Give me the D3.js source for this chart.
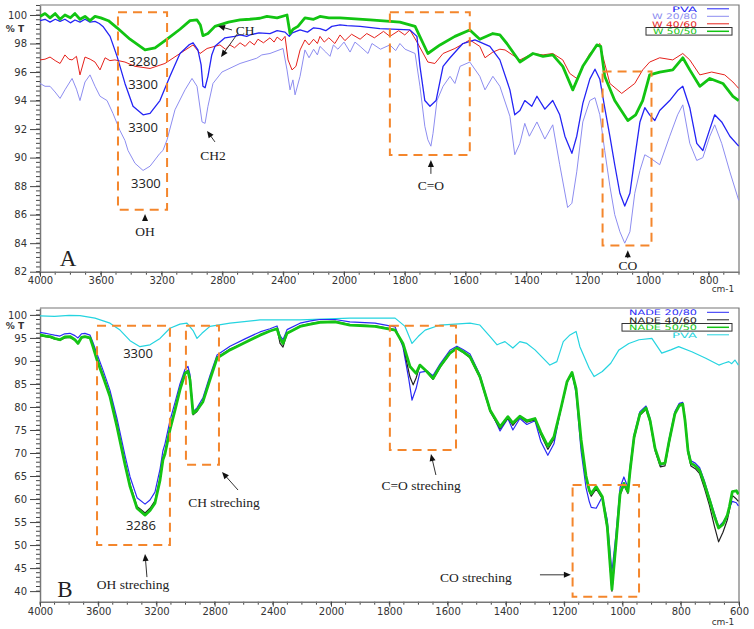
<!DOCTYPE html>
<html><head><meta charset="utf-8">
<script src="https://cdn.jsdelivr.net/npm/d3@7"></script>
<style>body{margin:0;background:#fff}svg{display:block}</style>
</head><body><svg id="c" width="754" height="629"></svg>
<script>
// ---------- DATA (wavenumber cm-1, %T) ----------
const xTicksTop = [4000,3600,3200,2800,2400,2000,1800,1600,1400,1200,1000,800];
const xTicksBottom = [4000,3600,3200,2800,2400,2000,1800,1600,1400,1200,1000,800,600];
const yTicksTop = [82,84,86,88,90,92,94,96,98,100];
const yTicksBottom = [40,45,50,55,60,65,70,75,80,85,90,95,100];
const legendTop = ["PVA","W 20/80","W 40/60","W 50/50"];
const legendBottom = ["NADE 20/80","NADE 40/60","NADE 50/50","PVA"];

const pvaTop = [[4000,99.6],[3967,99.7],[3934,99.5],[3900,99.7],[3868,99.55],[3836,99.7],[3800,99.45],[3770,99.65],[3737,99.5],[3704,99.7],[3671,99.5],[3638,99.55],[3610,99.4],[3586,99.2],[3539,98.5],[3493,97.1],[3441,95.2],[3388,93.6],[3322,93.0],[3276,93.1],[3211,94.0],[3145,95.7],[3079,97.3],[3020,97.9],[2993,98.05],[2961,97.55],[2940,96.5],[2928,95.0],[2914,94.9],[2895,95.7],[2870,97.2],[2849,97.8],[2783,98.4],[2720,98.5],[2684,98.6],[2640,98.5],[2618,98.6],[2560,98.75],[2487,98.7],[2440,98.9],[2388,98.8],[2360,98.5],[2340,98.75],[2289,98.95],[2240,98.8],[2200,99.1],[2158,99.05],[2120,98.9],[2080,99.2],[2026,99.3],[1990,99.25],[1947,99.2],[1882,99.05],[1783,98.95],[1760,98.5],[1750,96.4],[1734,94.0],[1717,93.6],[1697,94.0],[1674,96.4],[1651,97.0],[1609,98.0],[1569,98.25],[1520,97.8],[1487,96.85],[1454,94.75],[1438,93.0],[1421,93.3],[1405,94.0],[1382,93.6],[1365,94.3],[1339,93.4],[1313,94.0],[1290,93.0],[1273,91.5],[1250,90.3],[1234,91.5],[1214,93.8],[1191,95.5],[1174,96.2],[1158,95.5],[1142,93.5],[1125,91.5],[1109,89.5],[1092,87.5],[1076,86.6],[1059,87.5],[1043,90.0],[1026,92.5],[1010,93.5],[994,93.0],[977,92.6],[961,93.3],[928,94.0],[902,94.7],[885,95.0],[862,93.5],[839,91.0],[819,90.5],[796,92.0],[780,93.0],[757,92.5],[730,91.5],[701,90.8]];

const w2080Top = [[4000,95.2],[3967,95.0],[3934,95.0],[3901,94.6],[3868,94.15],[3836,94.75],[3789,95.55],[3760,94.8],[3737,94.0],[3704,95.3],[3671,95.8],[3638,95.0],[3605,94.3],[3559,94.0],[3520,93.1],[3474,91.9],[3441,91.2],[3421,90.5],[3375,89.6],[3322,89.1],[3276,89.4],[3211,90.3],[3191,90.5],[3164,91.25],[3112,93.35],[3046,94.75],[3000,95.55],[2967,95.0],[2934,92.5],[2914,92.4],[2895,93.6],[2862,95.2],[2803,96.0],[2684,96.6],[2574,96.97],[2541,97.2],[2487,97.3],[2401,97.65],[2375,96.15],[2355,94.75],[2336,95.45],[2322,94.4],[2289,95.7],[2257,97.55],[2230,97.0],[2200,97.6],[2175,97.2],[2158,97.8],[2120,97.4],[2092,97.1],[2070,97.9],[2040,97.6],[2000,98.1],[1980,97.4],[1964,98.1],[1947,97.8],[1921,97.3],[1908,98.0],[1880,97.6],[1849,97.9],[1830,97.5],[1816,98.0],[1799,97.6],[1766,97.3],[1750,95.0],[1734,92.2],[1724,91.25],[1714,90.8],[1707,91.7],[1694,94.0],[1674,95.0],[1651,95.7],[1635,95.2],[1618,96.4],[1586,96.7],[1553,95.7],[1536,94.75],[1510,95.7],[1487,95.0],[1454,92.9],[1438,90.2],[1421,91.0],[1405,92.4],[1390,91.5],[1365,92.5],[1339,91.3],[1313,92.3],[1290,89.5],[1264,86.5],[1250,86.8],[1234,89.0],[1214,92.5],[1191,94.0],[1174,94.2],[1158,93.0],[1142,90.5],[1125,88.0],[1109,86.0],[1092,84.8],[1076,84.0],[1059,84.8],[1043,87.5],[1026,89.1],[1010,90.2],[994,90.0],[961,89.5],[928,91.5],[902,93.0],[885,93.7],[862,91.0],[839,89.8],[819,90.0],[796,91.5],[780,92.3],[757,91.0],[730,89.0],[701,87.0]];

const w4060Top = [[4000,96.85],[3967,96.9],[3934,97.05],[3900,96.8],[3868,96.6],[3836,97.2],[3810,96.9],[3789,96.85],[3760,97.1],[3737,95.8],[3704,97.05],[3670,96.9],[3638,96.7],[3605,96.15],[3572,97.0],[3540,96.8],[3507,96.85],[3441,96.7],[3375,96.4],[3276,96.25],[3178,96.6],[3079,97.3],[2993,97.9],[2947,97.3],[2901,97.65],[2816,97.9],[2780,97.6],[2750,97.9],[2720,97.7],[2684,98.05],[2650,97.8],[2620,98.15],[2590,97.9],[2566,98.3],[2530,98.05],[2487,98.4],[2460,98.1],[2440,98.45],[2410,98.2],[2388,98.5],[2368,96.85],[2342,96.15],[2316,96.4],[2289,97.55],[2257,98.25],[2230,97.9],[2200,98.3],[2175,98.0],[2158,98.5],[2130,98.1],[2100,98.4],[2060,98.0],[2026,98.6],[1997,98.2],[1975,98.65],[1947,98.3],[1925,98.7],[1900,98.4],[1870,98.85],[1849,98.5],[1820,98.9],[1800,98.6],[1783,98.95],[1757,98.0],[1724,96.7],[1701,96.6],[1674,97.3],[1635,97.65],[1586,98.25],[1553,97.8],[1536,97.0],[1510,97.4],[1487,97.6],[1470,97.55],[1421,96.85],[1378,97.3],[1345,97.2],[1313,97.3],[1280,96.85],[1257,95.9],[1234,95.55],[1191,97.3],[1158,98.0],[1148,97.1],[1125,95.2],[1086,94.5],[1043,95.2],[1017,96.15],[994,96.7],[961,97.0],[918,96.85],[885,97.3],[862,96.85],[829,95.8],[790,96.0],[747,95.8],[720,95.3],[701,94.85]];

const w5050Top = [[4000,99.9],[3967,100.1],[3934,99.8],[3900,100.1],[3868,99.7],[3836,100.0],[3800,99.8],[3770,100.1],[3737,99.7],[3704,99.9],[3671,99.6],[3638,99.9],[3600,99.8],[3550,99.6],[3493,99.1],[3408,98.3],[3309,97.55],[3243,97.7],[3164,98.3],[3079,99.0],[3013,99.6],[2967,99.65],[2945,99.3],[2928,98.55],[2895,98.7],[2849,99.2],[2760,99.5],[2684,99.65],[2620,99.7],[2553,99.77],[2507,99.9],[2440,99.8],[2375,100.0],[2355,98.7],[2335,99.0],[2303,99.2],[2257,99.8],[2200,99.7],[2158,99.9],[2100,99.8],[2026,99.8],[1914,99.65],[1816,99.5],[1766,99.2],[1724,97.3],[1684,97.9],[1635,98.5],[1586,98.95],[1553,98.3],[1510,98.7],[1487,98.6],[1464,98.0],[1421,96.7],[1378,97.3],[1345,97.1],[1313,97.2],[1280,96.4],[1247,94.75],[1214,96.4],[1168,97.9],[1155,97.8],[1142,95.7],[1109,94.0],[1066,92.6],[1040,93.0],[1017,94.0],[994,95.8],[961,96.0],[918,96.15],[885,97.0],[862,96.15],[829,95.0],[796,95.55],[753,95.2],[720,94.3],[701,94.0]];

const pvaBottom = [[4000,99.8],[3900,99.7],[3800,99.9],[3725,99.85],[3622,99.3],[3519,98.2],[3450,96.7],[3381,94.4],[3313,93.1],[3244,93.5],[3175,94.9],[3107,97.1],[3038,98.0],[2990,98.2],[2948,96.6],[2921,94.9],[2887,96.0],[2832,97.5],[2694,98.2],[2488,98.9],[2213,98.9],[1935,99.3],[1780,99.3],[1746,97.5],[1722,93.8],[1701,95.3],[1677,96.7],[1626,97.8],[1523,98.2],[1489,97.8],[1454,95.3],[1430,93.5],[1420,93.8],[1403,94.2],[1376,92.8],[1352,94.2],[1328,93.8],[1300,92.4],[1249,89.1],[1225,89.85],[1203,94.2],[1180,95.65],[1159,96.4],[1146,93.1],[1114,88.4],[1097,86.6],[1069,87.7],[1040,89.5],[1012,92.4],[978,93.8],[943,94.6],[899,94.9],[865,91.7],[834,92.4],[807,93.1],[762,92.0],[714,90.6],[669,89.1],[652,89.5],[635,89.85],[625,89.4],[614,90.2],[602,89.1]];

const nade5050 = [[4000,95.65],[3960,95.4],[3931,95.3],[3900,94.9],[3863,94.6],[3830,95.2],[3794,95.3],[3760,94.6],[3739,93.8],[3715,95.1],[3691,95.3],[3656,95.0],[3636,93.1],[3608,90.2],[3567,86.6],[3519,82.25],[3471,75.7],[3416,67.5],[3381,62.7],[3333,58.0],[3278,56.5],[3244,57.5],[3210,59.1],[3175,64.1],[3155,68.5],[3141,69.8],[3107,75.0],[3072,79.3],[3038,83.7],[3003,87.3],[2983,87.7],[2969,85.9],[2948,78.6],[2921,79.3],[2880,81.15],[2832,85.9],[2783,90.6],[2694,92.4],[2591,94.0],[2488,95.6],[2419,96.5],[2371,97.0],[2350,94.9],[2330,93.8],[2302,96.0],[2213,97.5],[2140,98.0],[2076,98.4],[1986,98.5],[1935,97.8],[1849,97.5],[1780,96.7],[1753,93.8],[1729,88.8],[1708,87.3],[1695,89.1],[1671,87.7],[1650,86.2],[1626,88.8],[1592,91.7],[1568,92.8],[1547,92.0],[1523,90.9],[1489,86.6],[1454,79.3],[1420,75.7],[1393,77.9],[1376,76.5],[1352,78.0],[1328,77.0],[1300,77.5],[1280,74.5],[1256,71.5],[1235,73.5],[1210,80.0],[1190,85.5],[1173,87.5],[1159,84.0],[1142,73.0],[1125,65.0],[1114,62.0],[1107,61.2],[1090,62.7],[1069,60.5],[1052,54.0],[1036,40.4],[1022,50.4],[1008,61.2],[995,63.4],[981,61.6],[974,66.0],[960,73.5],[940,78.5],[919,79.8],[905,77.0],[888,71.0],[870,67.6],[854,67.8],[840,72.5],[820,78.5],[805,80.3],[793,80.6],[785,77.0],[775,70.5],[765,67.8],[750,67.2],[735,66.2],[718,63.2],[701,59.8],[684,56.2],[670,53.7],[655,54.5],[640,56.5],[633,58.3],[623,61.6],[609,61.8],[602,61.0]];

const nade4060 = [[4000,95.5],[3960,95.3],[3931,95.1],[3900,94.8],[3863,94.5],[3830,95.0],[3794,95.1],[3760,94.5],[3739,94.0],[3715,95.0],[3691,95.2],[3656,94.9],[3636,93.3],[3608,90.6],[3567,87.0],[3519,82.6],[3471,76.2],[3416,68.0],[3381,63.2],[3333,58.4],[3278,57.0],[3244,58.0],[3210,59.6],[3175,64.6],[3155,69.0],[3141,70.2],[3107,75.4],[3072,79.6],[3038,84.0],[3003,87.5],[2983,88.0],[2969,86.2],[2948,78.3],[2921,79.0],[2880,81.3],[2832,86.0],[2783,90.8],[2694,92.6],[2591,94.0],[2488,95.6],[2419,96.5],[2371,97.0],[2350,93.8],[2330,93.0],[2302,96.0],[2213,97.6],[2140,98.1],[2076,98.5],[1986,98.6],[1935,97.9],[1849,97.6],[1780,96.8],[1753,93.5],[1729,86.5],[1718,84.8],[1708,86.3],[1695,89.0],[1671,87.5],[1650,86.0],[1626,88.6],[1592,91.6],[1568,92.7],[1547,91.9],[1523,90.7],[1489,86.3],[1454,79.0],[1420,75.3],[1393,77.6],[1376,76.0],[1352,77.8],[1328,76.7],[1300,77.2],[1280,74.0],[1256,70.8],[1235,73.0],[1210,79.8],[1190,85.3],[1173,87.3],[1159,83.7],[1142,72.6],[1125,64.6],[1114,61.6],[1107,60.6],[1090,62.2],[1069,60.1],[1052,53.5],[1036,40.0],[1022,50.0],[1008,60.8],[995,63.0],[981,61.2],[974,65.6],[960,73.0],[940,78.2],[919,79.5],[905,76.6],[888,70.5],[870,67.0],[854,67.2],[840,72.0],[820,78.5],[805,80.5],[793,80.8],[785,77.0],[775,70.0],[765,67.2],[750,66.6],[735,65.5],[718,62.2],[701,58.5],[684,54.0],[670,50.7],[655,52.8],[640,55.5],[633,57.5],[623,60.8],[609,60.0],[602,59.5]];

const nade2080 = [[4000,96.2],[3960,96.0],[3931,95.8],[3900,95.6],[3863,95.4],[3830,95.9],[3794,96.0],[3760,95.5],[3739,95.0],[3715,95.9],[3691,96.0],[3656,95.6],[3636,94.0],[3608,91.5],[3567,88.0],[3519,83.6],[3471,77.5],[3416,69.5],[3381,64.8],[3333,60.3],[3278,58.9],[3244,59.8],[3210,61.5],[3175,66.5],[3155,70.5],[3141,72.0],[3107,77.0],[3072,81.0],[3038,85.0],[3003,88.2],[2983,88.8],[2969,87.0],[2948,79.0],[2921,79.8],[2880,82.0],[2832,86.8],[2783,91.3],[2694,93.2],[2591,94.8],[2488,96.3],[2419,97.0],[2371,97.6],[2350,95.5],[2330,94.6],[2302,96.8],[2213,98.2],[2140,98.7],[2076,99.0],[1986,99.0],[1935,98.5],[1849,98.2],[1780,97.4],[1753,93.0],[1733,86.0],[1722,81.5],[1708,84.0],[1695,87.5],[1671,87.8],[1650,86.8],[1626,89.3],[1592,92.3],[1568,93.2],[1547,92.5],[1523,91.5],[1489,87.0],[1454,79.5],[1420,74.8],[1393,77.5],[1376,75.0],[1352,77.5],[1328,76.2],[1300,77.0],[1280,72.5],[1256,69.5],[1235,72.0],[1210,80.0],[1190,85.5],[1173,87.3],[1159,83.0],[1142,70.5],[1125,62.5],[1114,59.5],[1107,58.2],[1090,58.0],[1069,60.5],[1052,55.5],[1036,44.2],[1022,52.5],[1008,62.5],[995,64.8],[981,62.5],[974,67.0],[960,74.0],[940,79.0],[919,80.2],[905,77.5],[888,71.0],[870,67.3],[854,67.8],[840,73.0],[820,79.0],[805,80.8],[793,81.0],[785,77.5],[775,71.0],[765,68.3],[750,67.8],[735,66.8],[718,63.8],[701,60.2],[684,56.8],[670,54.0],[655,55.0],[640,56.5],[633,58.0],[623,59.5],[609,59.2],[602,58.5]];

// ---------- DRAW ----------
const svg = d3.select("#c");
svg.append("rect").attr("width",754).attr("height",629).attr("fill","#fff");

function panel(cfg){
  const g = svg.append("g");
  const x = d3.scaleLinear().domain(cfg.xDomain).range(cfg.xRange);
  const y = d3.scaleLinear().domain(cfg.yDomain).range(cfg.yRange);
  const L = cfg.xRange[0], R = cfg.xRange[2];
  const B = cfg.yRange[0], T = cfg.yRange[1];
  g.append("path").attr("d",`M${L},${T}H${R}V${B}`).attr("fill","none").attr("stroke","#777").attr("stroke-width",1.2);
  const minorX = [];
  for(let w=cfg.xDomain[0]; w>cfg.xDomain[2]-1; w-= (w>2000?100:50)) minorX.push(w);
  g.selectAll(".mx").data(minorX).join("line").attr("x1",d=>x(d)).attr("x2",d=>x(d)).attr("y1",B).attr("y2",B+3).attr("stroke","#444");
  const minorY = [];
  for(let v=cfg.yTicks[0]; v<=cfg.yDomain[1]+1e-6; v+=cfg.yMinor) minorY.push(v);
  g.selectAll(".my").data(minorY).join("line").attr("x1",L-4).attr("x2",L).attr("y1",d=>y(d)).attr("y2",d=>y(d)).attr("stroke","#444");
  const xa = g.append("g").attr("transform",`translate(0,${B})`)
    .call(d3.axisBottom(x).tickValues(cfg.xTicks).tickFormat(d3.format("d")).tickSize(5).tickSizeOuter(0));
  xa.select(".domain").attr("stroke","#777").attr("stroke-width",1.5);
  xa.selectAll(".tick line").attr("stroke","#444");
  xa.selectAll("text").attr("font-family","DejaVu Sans").attr("font-size",10).attr("fill","#333").attr("y",cfg.xLabOff).attr("dy","0.35em");
  const ya = g.append("g").attr("transform",`translate(${L},0)`)
    .call(d3.axisLeft(y).tickValues(cfg.yTicks).tickSize(10).tickSizeOuter(0));
  ya.select(".domain").attr("stroke","#777").attr("stroke-width",1.5);
  ya.selectAll(".tick line").attr("stroke","#444");
  ya.selectAll("text").attr("font-family","DejaVu Sans").attr("font-size",10).attr("fill","#333").attr("x",-13);
  g.append("text").attr("x",L-25).attr("y",y(cfg.pctT)).attr("dy","0.35em").attr("text-anchor","middle")
    .attr("font-family","DejaVu Sans").attr("font-size",9).attr("font-weight","bold").attr("fill","#333").text("% T");
  g.append("text").attr("x",R-16).attr("y",B+cfg.cmOff).attr("dy","0.35em").attr("text-anchor","middle")
    .attr("font-family","DejaVu Sans").attr("font-size",9).attr("fill","#333").text("cm-1");
  const cid = "clip"+cfg.id;
  svg.append("clipPath").attr("id",cid).append("rect").attr("x",L).attr("y",T).attr("width",R-L).attr("height",B-T);
  const line = d3.line().x(d=>x(d[0])).y(d=>y(d[1]));
  const lg = g.append("g").attr("clip-path",`url(#${cid})`);
  cfg.series.forEach(s=>{
    lg.append("path").datum(s.data).attr("d",line).attr("fill","none").attr("stroke",s.color)
      .attr("stroke-width",s.w).attr("stroke-linejoin","round");
  });
  const lgd = g.append("g");
  cfg.legend.forEach((name,i)=>{
    const s = cfg.legendStyle[i];
    const yy = T + cfg.legY0 + i*7.5;
    lgd.append("text").attr("x",R-42).attr("y",yy).attr("dy","0.36em").attr("text-anchor","end")
      .attr("font-family","DejaVu Sans").attr("font-size",7.6).attr("fill",s.color)
      .attr("textLength",s.tw).attr("lengthAdjust","spacingAndGlyphs").text(name);
    lgd.append("line").attr("x1",R-32).attr("x2",R-10).attr("y1",yy).attr("y2",yy).attr("stroke",s.color).attr("stroke-width",s.lw);
  });
  const byy = T + cfg.legY0 + cfg.boxIdx*7.5;
  lgd.append("rect").attr("x",cfg.boxX).attr("y",byy-3.8).attr("width",R-7-cfg.boxX).attr("height",7.6)
    .attr("fill","none").attr("stroke","#333").attr("stroke-width",1);
  return {g,x,y};
}

const orange = "#f4862c";
function box(p,x1,x2,v1,v2){
  p.g.append("rect").attr("x",p.x(x1)).attr("y",p.y(v1)).attr("width",p.x(x2)-p.x(x1)).attr("height",p.y(v2)-p.y(v1))
    .attr("fill","none").attr("stroke",orange).attr("stroke-width",2).attr("stroke-dasharray","9,6");
}
function label(p,wn,v,t,opt={}){
  p.g.append("text").attr("x",p.x(wn)).attr("y",p.y(v)).attr("dy","0.35em").attr("text-anchor","middle")
    .attr("font-family",opt.font||"Liberation Serif").attr("font-size",opt.size||13.5).attr("fill","#222").text(t);
}
function arrow(p,w1,v1,w2,v2){
  const x1=p.x(w1),y1=p.y(v1),x2=p.x(w2),y2=p.y(v2);
  const a=Math.atan2(y2-y1,x2-x1), L=7, W=3;
  p.g.append("line").attr("x1",x1).attr("y1",y1).attr("x2",x2-Math.cos(a)*4).attr("y2",y2-Math.sin(a)*4).attr("stroke","#333").attr("stroke-width",1);
  const pts=[[x2,y2],[x2-L*Math.cos(a)+W*Math.sin(a),y2-L*Math.sin(a)-W*Math.cos(a)],[x2-L*Math.cos(a)-W*Math.sin(a),y2-L*Math.sin(a)+W*Math.cos(a)]];
  p.g.append("path").attr("d","M"+pts.join("L")+"Z").attr("fill","#111");
}

// TOP panel
const pTop = panel({id:"A", xDomain:[4000,2000,700], xRange:[40,344,739], yDomain:[82,100.7], yRange:[271.7,5],
  xTicks:xTicksTop, yTicks:yTicksTop, yMinor:2/6, pctT:99.0, xLabOff:8.5, cmOff:17, legY0:3.8,
  series:[{data:w2080Top,color:"#8d8df0",w:1},{data:w4060Top,color:"#e5211b",w:1},{data:pvaTop,color:"#2424f5",w:1.3},{data:w5050Top,color:"#12c412",w:2.8}],
  legend:legendTop, legendStyle:[{color:"#2424f5",lw:1,tw:25},{color:"#8d8df0",lw:1,tw:45},{color:"#e5211b",lw:1,tw:45},{color:"#12c412",lw:1.5,tw:44}],
  boxIdx:3, boxX:646});
box(pTop,3487,3164,100.2,86.35);
box(pTop,1849,1586,100.2,90.19);
box(pTop,1149,988,96.03,83.83);
label(pTop,3322,96.71,"3280",{font:"Open Sans",size:13});
label(pTop,3322,95.16,"3300",{font:"Open Sans",size:13});
label(pTop,3322,92.08,"3300",{font:"Open Sans",size:13});
label(pTop,3303,88.16,"3300",{font:"Open Sans",size:13});
label(pTop,3309,84.85,"OH");
arrow(pTop,3309,85.56,3309,86.05);
label(pTop,2651,98.95,"CH");
arrow(pTop,2737,98.95,2829,99.23);
arrow(pTop,2697,98.74,2809,97.06);
label(pTop,2862,90.19,"CH2");
arrow(pTop,2849,91.1,2901,91.87);
label(pTop,1714,88.09,"C=O");
arrow(pTop,1714,88.86,1714,89.84);
label(pTop,1066,82.45,"CO");
arrow(pTop,1066,82.95,1066,83.5);
label(pTop,3816,82.97,"A",{size:23});

// BOTTOM panel
const pBot = panel({id:"B", xDomain:[4000,2000,600], xRange:[40,331,739], yDomain:[37.7,101.5], yRange:[601.7,308],
  xTicks:xTicksBottom, yTicks:yTicksBottom, yMinor:1, pctT:97.55, xLabOff:10, cmOff:20, legY0:4.3,
  series:[{data:pvaBottom,color:"#25d4e0",w:1.2},{data:nade2080,color:"#2a2af5",w:1.2},{data:nade4060,color:"#222",w:1.2},{data:nade5050,color:"#14c414",w:2.8}],
  legend:legendBottom, legendStyle:[{color:"#2a2af5",lw:1,tw:68},{color:"#222",lw:1,tw:68},{color:"#14c414",lw:1.5,tw:68},{color:"#25d4e0",lw:1,tw:25}],
  boxIdx:2, boxX:622});
box(pBot,3608,3107,97.67,50.0);
box(pBot,2997,2770,97.67,67.46);
box(pBot,1798,1571,97.67,70.65);
box(pBot,1171,943,63.04,38.76);
label(pBot,3326,91.52,"3300",{font:"Open Sans",size:13});
label(pBot,3306,54.2,"3286",{font:"Open Sans",size:13});
label(pBot,3361,41.52,"OH streching");
arrow(pBot,3265,43.04,3278,48.04);
label(pBot,2735,59.35,"CH streching");
arrow(pBot,2639,61.96,2749,65.87);
label(pBot,1691,63.04,"C=O streching");
arrow(pBot,1640,65.22,1657,69.78);
label(pBot,1503,43.04,"CO streching");
arrow(pBot,1283,43.54,1177,43.54);
label(pBot,3828,40.43,"B",{size:23});
</script></body></html>
